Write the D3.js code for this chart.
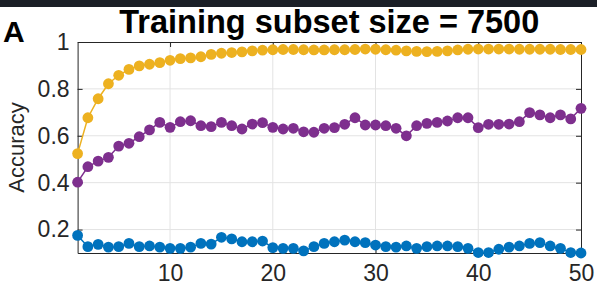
<!DOCTYPE html>
<html>
<head>
<meta charset="utf-8">
<script src="https://cdn.jsdelivr.net/npm/d3@7"></script>
<style>
  body { margin: 0; background: #fff; }
  text { font-family: "Liberation Sans", Arial, sans-serif; }
</style>
</head>
<body>
<div id="chart"></div>
<script>
const width = 597;
const height = 289;

// data
const yellowVals = [0.524, 0.677, 0.758, 0.822, 0.858, 0.883, 0.898, 0.905, 0.912, 0.922,
    0.929, 0.932, 0.937, 0.947, 0.952, 0.955, 0.958, 0.962, 0.965, 0.967,
    0.968, 0.968, 0.967, 0.966, 0.966, 0.967, 0.967, 0.968, 0.970, 0.969,
    0.967, 0.965, 0.962, 0.960, 0.959, 0.960, 0.962, 0.966, 0.969, 0.970,
    0.970, 0.970, 0.970, 0.969, 0.969, 0.969, 0.969, 0.968, 0.968, 0.968];
const purpleVals = [0.402, 0.468, 0.492, 0.508, 0.556, 0.568, 0.596, 0.625, 0.657, 0.636,
    0.660, 0.664, 0.643, 0.639, 0.657, 0.643, 0.629, 0.650, 0.656, 0.636,
    0.629, 0.632, 0.617, 0.615, 0.632, 0.635, 0.649, 0.677, 0.646, 0.646,
    0.643, 0.632, 0.600, 0.643, 0.653, 0.657, 0.663, 0.677, 0.677, 0.635,
    0.649, 0.649, 0.650, 0.660, 0.699, 0.689, 0.677, 0.689, 0.672, 0.717];
const blueVals = [0.175, 0.127, 0.137, 0.125, 0.127, 0.141, 0.127, 0.130, 0.125, 0.120,
    0.120, 0.125, 0.141, 0.138, 0.167, 0.160, 0.148, 0.148, 0.151, 0.123,
    0.120, 0.120, 0.109, 0.127, 0.141, 0.148, 0.155, 0.148, 0.144, 0.134,
    0.127, 0.125, 0.130, 0.120, 0.127, 0.130, 0.130, 0.127, 0.120, 0.102,
    0.102, 0.116, 0.125, 0.130, 0.141, 0.144, 0.130, 0.120, 0.102, 0.100];
const xTicks = [10, 20, 30, 40, 50];
const yTicks = [0.2, 0.4, 0.6, 0.8, 1];

const series = [
    { name: "blue", color: "#0072BD", values: blueVals },
    { name: "yellow", color: "#EDB120", values: yellowVals },
    { name: "purple", color: "#7E2F8E", values: purpleVals }
];

const plotLeft = 77.6, plotRight = 581, plotTop = 42, plotBottom = 253;

let svg = d3.select("#chart").append("svg")
    .attr("width", width)
    .attr("height", height);

// dark strip at the very top of the screenshot
svg.append("rect")
    .attr("x", 0).attr("y", 0)
    .attr("width", width).attr("height", 7)
    .attr("fill", "#1b1f27");

let xScale = d3.scaleLinear().domain([1, 50]).range([plotLeft, plotRight]);
let yScale = d3.scaleLinear().domain([0.1, 1]).range([plotBottom, plotTop]);

// grid
let grid = svg.append("g");
grid.selectAll(".gx")
    .data(xTicks.filter(d => d < 50))
    .enter().append("line")
    .attr("x1", d => xScale(d)).attr("x2", d => xScale(d))
    .attr("y1", plotTop).attr("y2", plotBottom)
    .attr("stroke", "#e3e3e3").attr("stroke-width", 1);
grid.selectAll(".gy")
    .data(yTicks.filter(d => d < 1))
    .enter().append("line")
    .attr("x1", plotLeft).attr("x2", plotRight)
    .attr("y1", d => yScale(d)).attr("y2", d => yScale(d))
    .attr("stroke", "#e3e3e3").attr("stroke-width", 1);

// axes (MATLAB style box, inward ticks)
let xAxis = svg.append("g")
    .attr("transform", `translate(0,${plotBottom})`)
    .call(d3.axisBottom(xScale).tickValues(xTicks).tickSizeInner(-5).tickSizeOuter(0).tickPadding(12));
let xAxisTop = svg.append("g")
    .attr("transform", `translate(0,${plotTop})`)
    .call(d3.axisTop(xScale).tickValues(xTicks).tickSizeInner(-5).tickSizeOuter(0).tickFormat(""));
let yAxis = svg.append("g")
    .attr("transform", `translate(${plotLeft},0)`)
    .call(d3.axisLeft(yScale).tickValues(yTicks).tickSizeInner(-5).tickSizeOuter(0).tickPadding(8)
        .tickFormat(d => d === 1 ? "1" : d3.format(".1f")(d)));
let yAxisRight = svg.append("g")
    .attr("transform", `translate(${plotRight},0)`)
    .call(d3.axisRight(yScale).tickValues(yTicks).tickSizeInner(-5).tickSizeOuter(0).tickFormat(""));

[xAxis, xAxisTop, yAxis, yAxisRight].forEach(a => {
    a.select(".domain").attr("stroke", "#262626").attr("stroke-width", 1);
    a.selectAll(".tick line").attr("stroke", "#262626");
    a.selectAll(".tick text")
        .attr("fill", "#262626")
        .style("font-size", "23px");
});

// lines and markers
let line = d3.line()
    .x((d, i) => xScale(i + 1))
    .y(d => yScale(d));

series.forEach(s => {
    let g = svg.append("g");
    g.append("path")
        .datum(s.values)
        .attr("d", line)
        .attr("fill", "none")
        .attr("stroke", s.color)
        .attr("stroke-width", 1.5);
    g.selectAll("circle")
        .data(s.values)
        .enter().append("circle")
        .attr("cx", (d, i) => xScale(i + 1))
        .attr("cy", d => yScale(d))
        .attr("r", 5.4)
        .attr("fill", s.color);
});

// labels
svg.append("text")
    .attr("x", (plotLeft + plotRight) / 2)
    .attr("y", 33)
    .attr("text-anchor", "middle")
    .style("font-size", "32.5px")
    .style("font-weight", "bold")
    .attr("fill", "#000")
    .text("Training subset size = 7500");

svg.append("text")
    .attr("x", 3)
    .attr("y", 42)
    .style("font-size", "30px")
    .style("font-weight", "bold")
    .attr("fill", "#000")
    .text("A");

svg.append("text")
    .attr("transform", `translate(24, ${(plotTop + plotBottom) / 2}) rotate(-90)`)
    .attr("text-anchor", "middle")
    .style("font-size", "22px")
    .attr("fill", "#262626")
    .text("Accuracy");
</script>
</body>
</html>
